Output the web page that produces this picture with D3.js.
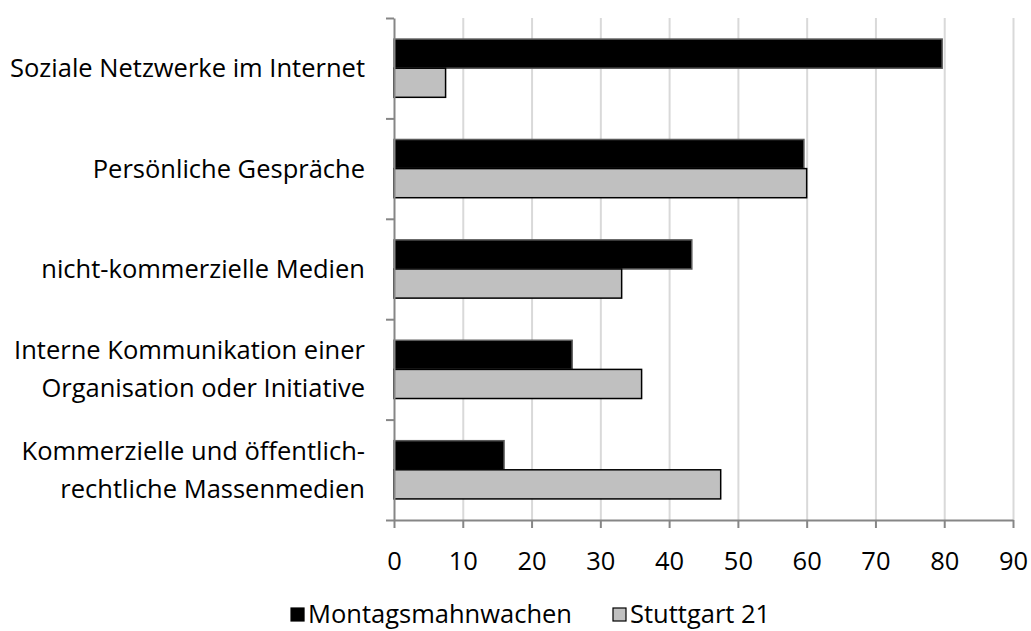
<!DOCTYPE html>
<html>
<head>
<meta charset="utf-8">
<script src="https://cdn.jsdelivr.net/npm/d3@7"></script>
<style>
  html, body { margin: 0; padding: 0; background: #fff; }
  svg text { font-family: "Open Sans", sans-serif; fill: #000; }
</style>
</head>
<body>
<svg id="chart" width="1031" height="631"></svg>
<script>
// ------------------------------------
// Data
// ------------------------------------
const categories = [
  "Soziale Netzwerke im Internet",
  "Persönliche Gespräche",
  "nicht-kommerzielle Medien",
  "Interne Kommunikation einer\nOrganisation oder Initiative",
  "Kommerzielle und öffentlich-\nrechtliche Massenmedien"
];
const seriesNames = ["Montagsmahnwachen", "Stuttgart 21"];
const montagsmahnwachen = [79.7, 59.6, 43.3, 25.9, 16.0];
const stuttgart21 = [7.5, 60.0, 33.1, 36.0, 47.5];
const xTicks = [0, 10, 20, 30, 40, 50, 60, 70, 80, 90];

const colors = { "Montagsmahnwachen": "#000000", "Stuttgart 21": "#c0c0c0" };
const strokes = { "Montagsmahnwachen": "#5a5a5a", "Stuttgart 21": "#000000" };

const rows = categories.map((c, i) => ({
  cat: c,
  values: [
    { key: seriesNames[0], value: montagsmahnwachen[i] },
    { key: seriesNames[1], value: stuttgart21[i] }
  ]
}));

// ------------------------------------
// Layout
// ------------------------------------
const plot = { left: 394, right: 1013, top: 18, bottom: 520 };
const fontSize = 25.5;
const fontFamily = '"Open Sans", sans-serif';

const svg = d3.select("#chart");

const x = d3.scaleLinear().domain([0, 90]).range([plot.left, plot.right]);
const y = d3.scaleBand().domain(categories).range([plot.top, plot.bottom]).padding(0);
const yEdge = d3.scaleLinear().domain([0, categories.length]).range([plot.top, plot.bottom]);
const inner = d3.scaleBand().domain(seriesNames)
  .range([y.bandwidth() * 0.21, y.bandwidth() * 0.79]).padding(0);

// Gridlines
svg.append("g")
  .attr("transform", `translate(0,${plot.top})`)
  .call(d3.axisTop(x).tickValues(xTicks.slice(1)).tickSize(-(plot.bottom - plot.top)).tickFormat(""))
  .call(g => g.select(".domain").remove())
  .call(g => g.selectAll("line").attr("stroke", "#d9d9d9").attr("stroke-width", 2));

// Bars
const groups = svg.append("g").selectAll("g")
  .data(rows).join("g")
  .attr("transform", d => `translate(0,${y(d.cat)})`);

groups.selectAll("rect")
  .data(d => d.values).join("rect")
  .attr("x", x(0))
  .attr("y", d => inner(d.key))
  .attr("width", d => x(d.value) - x(0))
  .attr("height", inner.bandwidth())
  .attr("fill", d => colors[d.key])
  .attr("stroke", d => strokes[d.key])
  .attr("stroke-width", 1.5);

// X axis
svg.append("g")
  .attr("transform", `translate(0,${plot.bottom})`)
  .call(d3.axisBottom(x).tickValues(xTicks).tickSize(8).tickSizeOuter(0).tickPadding(24))
  .call(g => g.select(".domain").attr("stroke", "#868686").attr("stroke-width", 2))
  .call(g => g.selectAll("line").attr("stroke", "#868686").attr("stroke-width", 2))
  .call(g => g.selectAll("text")
    .style("font-size", fontSize + "px")
    .style("font-family", fontFamily)
    .attr("fill", "#000"));

// Y axis (ticks at category boundaries)
svg.append("g")
  .attr("transform", `translate(${plot.left},0)`)
  .call(d3.axisLeft(yEdge).tickValues(d3.range(categories.length + 1)).tickSize(8).tickSizeOuter(0).tickFormat(""))
  .call(g => g.select(".domain").attr("stroke", "#868686").attr("stroke-width", 2))
  .call(g => g.selectAll("line").attr("stroke", "#868686").attr("stroke-width", 2));

// Category labels
const lineGap = 38;
svg.append("g").selectAll("text")
  .data(categories).join("text")
  .attr("x", 365)
  .attr("y", d => y(d) + y.bandwidth() / 2)
  .attr("text-anchor", "end")
  .style("font-size", fontSize + "px")
  .each(function (d) {
    const lines = d.split("\n");
    const t = d3.select(this);
    lines.forEach((ln, i) => {
      t.append("tspan")
        .attr("x", 365)
        .attr("dy", i === 0 ? ((-(lines.length - 1) / 2) * lineGap + 9) : lineGap)
        .text(ln);
    });
  });

// Legend
const legendBase = 623;
const legend = svg.append("g");

legend.append("text")
  .attr("x", 630).attr("y", legendBase)
  .style("font-size", fontSize + "px")
  .text(seriesNames[1]);
legend.append("rect")
  .attr("x", 613).attr("y", legendBase - 15)
  .attr("width", 13).attr("height", 13)
  .attr("fill", colors[seriesNames[1]]).attr("stroke", "#000").attr("stroke-width", 1.2);

const t1 = legend.append("text")
  .attr("x", 572).attr("y", legendBase)
  .attr("text-anchor", "end")
  .style("font-size", fontSize + "px")
  .text(seriesNames[0]);
const w1 = t1.node().getComputedTextLength();
legend.append("rect")
  .attr("x", 572 - w1 - 17).attr("y", legendBase - 15)
  .attr("width", 13).attr("height", 13)
  .attr("fill", colors[seriesNames[0]]).attr("stroke", "#000").attr("stroke-width", 1.2);
</script>
</body>
</html>
